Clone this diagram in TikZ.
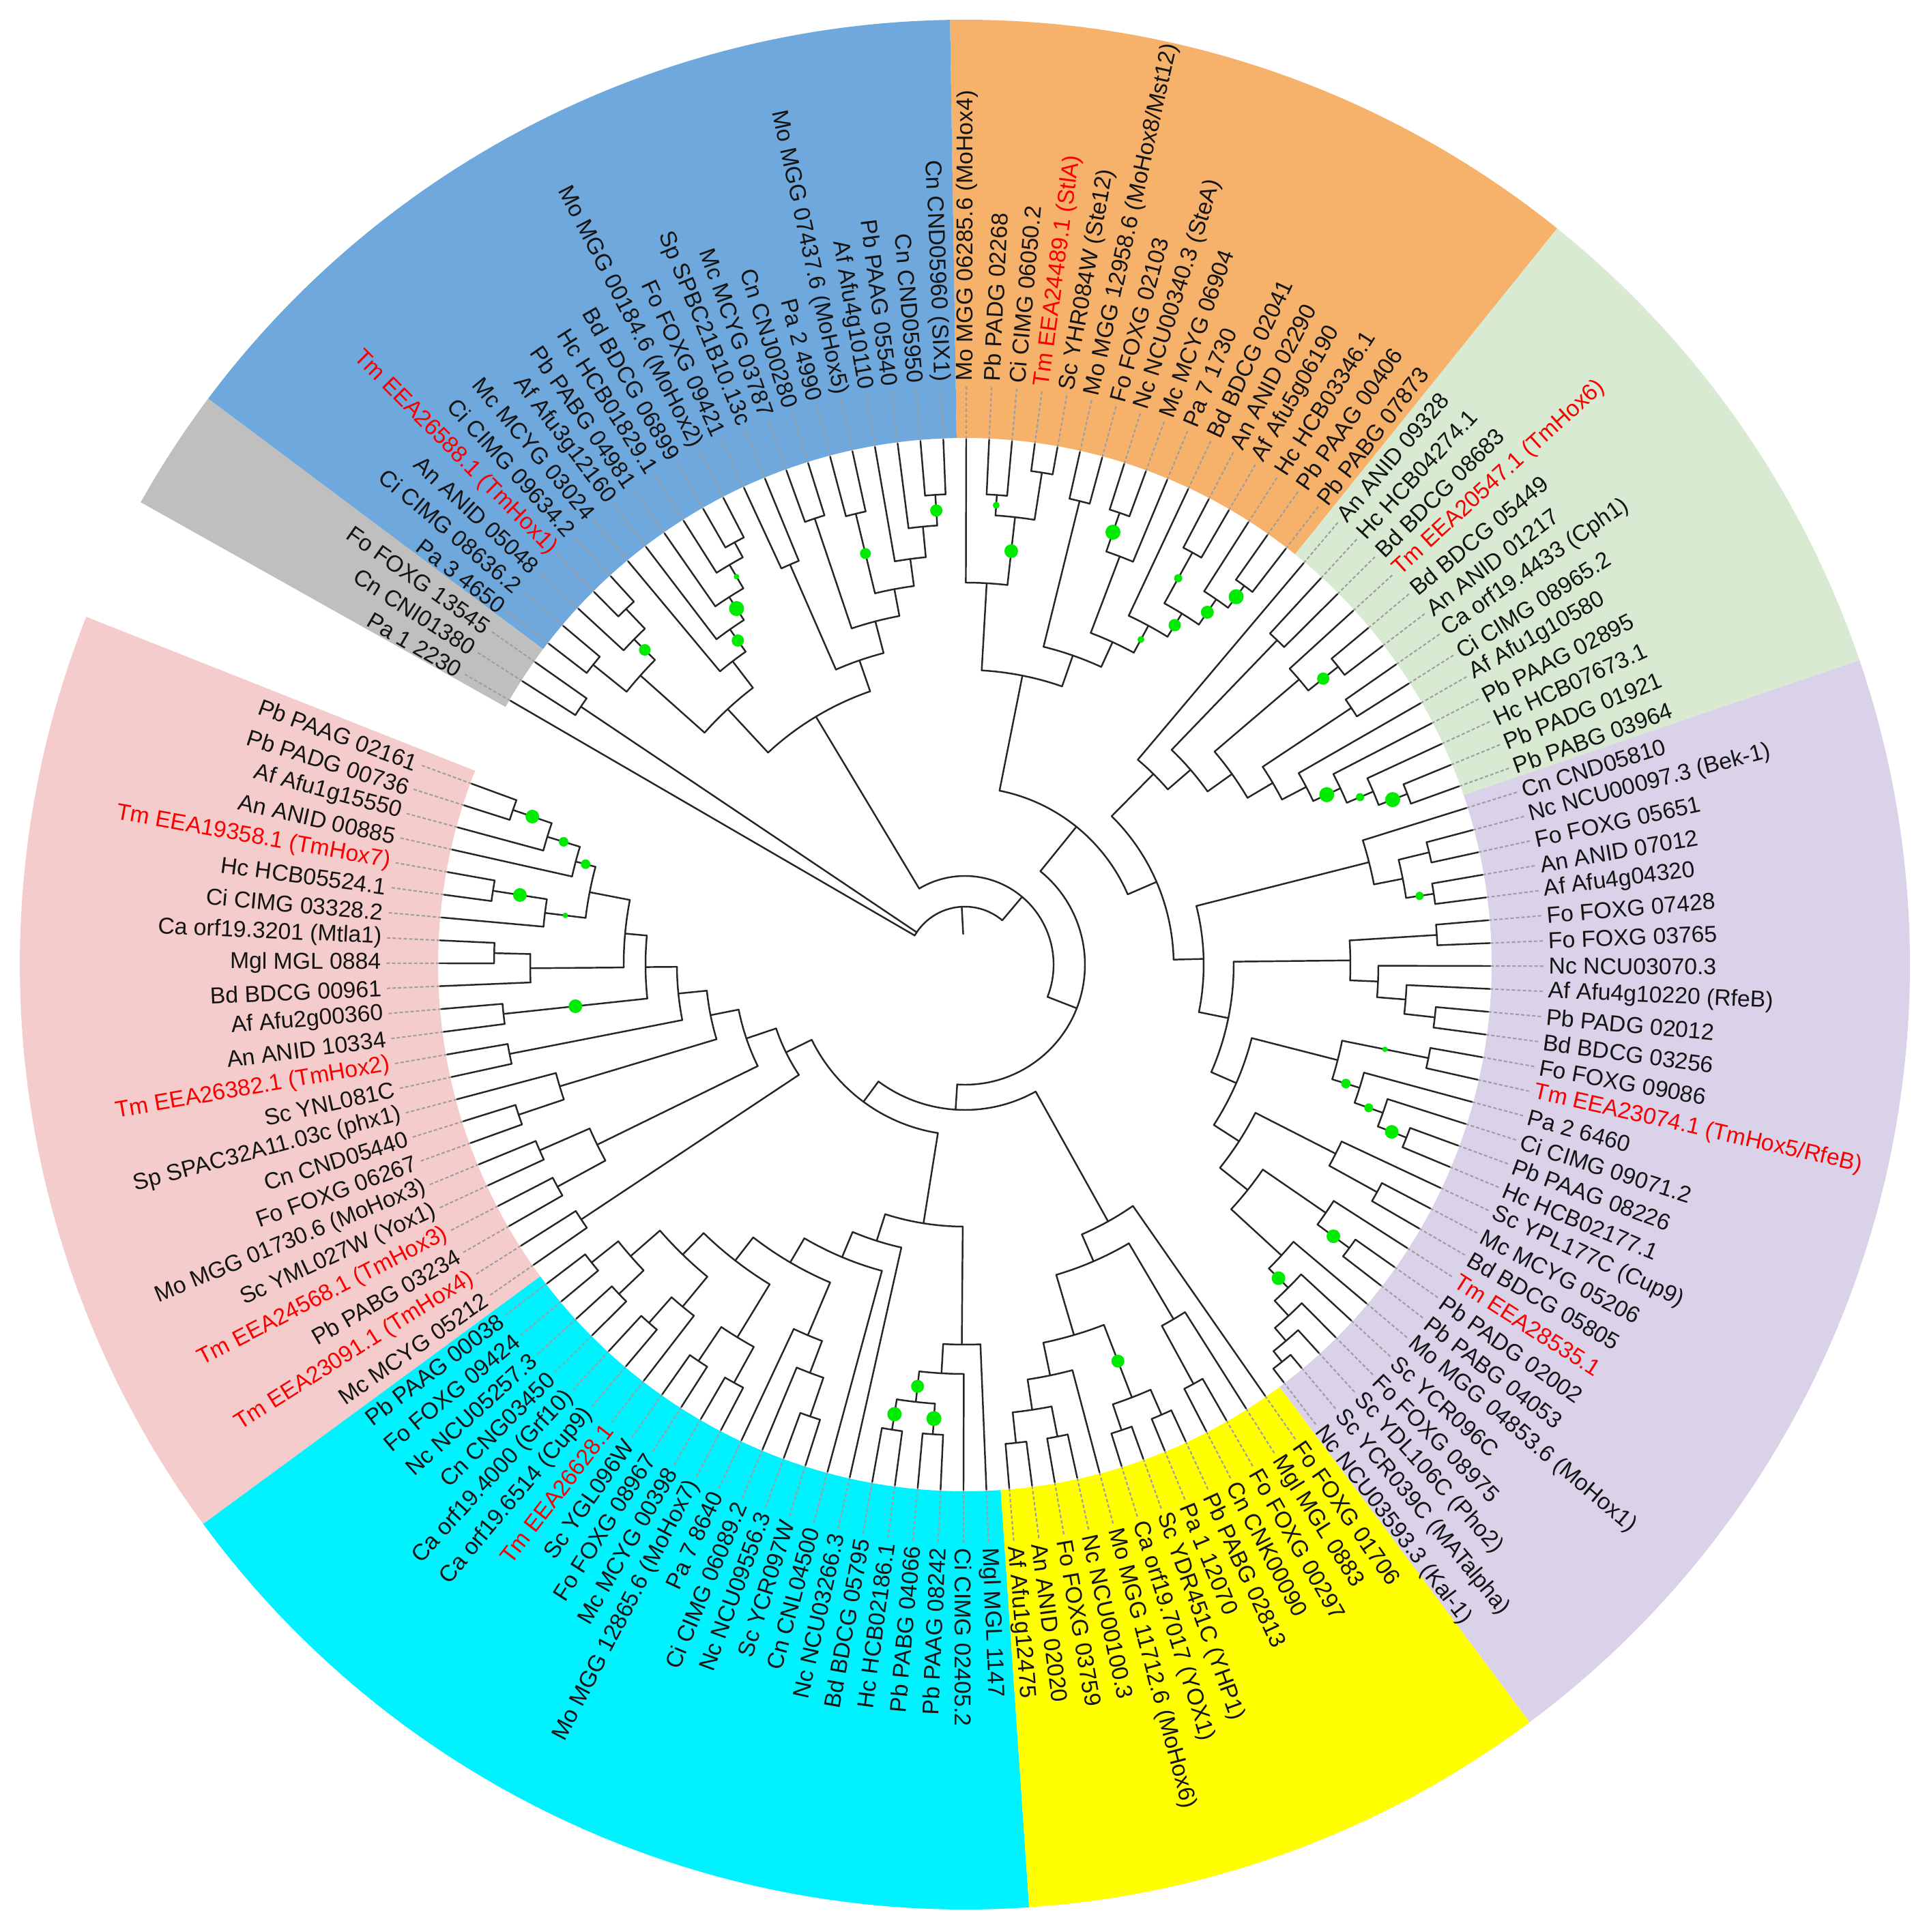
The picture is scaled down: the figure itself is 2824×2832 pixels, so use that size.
\documentclass[tikz,border=0pt]{standalone}
\usepackage{fontspec}
\setmainfont{Liberation Sans}

\def\base{159.85}
\def\tipr{770}
\def\labr{855}
\def\rin{772}
\def\rout{1385}
\definecolor{clade blue}{RGB}{111,168,220}
\definecolor{clade orange}{RGB}{246,178,107}
\definecolor{clade green}{RGB}{217,234,211}
\definecolor{clade purple}{RGB}{217,210,233}
\definecolor{clade yellow}{RGB}{255,255,0}
\definecolor{clade cyan}{RGB}{0,242,255}
\definecolor{clade pink}{RGB}{244,204,204}
\definecolor{clade gray}{RGB}{191,191,191}
\definecolor{support}{RGB}{0,235,0}
\definecolor{hox red}{RGB}{250,0,0}
\tikzset{branch/.style={draw=black!85, line width=0.7pt, line cap=round},
    leader/.style={draw=black!38, line width=0.6pt, dash pattern=on 1.4pt off 0.9pt},
    leaf/.style={font=\fontsize{9.6}{11}\selectfont, inner sep=0pt, text=black!92}}
\newcommand\hox[1]{\textcolor{hox red}{#1}}
\newcommand\cladesector[3]{\fill[#1] (#2:\rin) arc[start angle=#2, end angle=#3, radius=\rin]
    -- (#3:\rout) arc[start angle=#3, end angle=#2, radius=\rout] -- cycle;}

\begin{document}
\begin{tikzpicture}[x=0.1mm, y=0.1mm]
\useasboundingbox (-1414,-1418) rectangle (1410,1414);
\cladesector{clade pink}{158.4}{216.3}
\cladesector{clade cyan}{216.3}{273.9}
\cladesector{clade yellow}{273.9}{306.7}
\cladesector{clade purple}{306.7}{378.8}
\cladesector{clade green}{378.8}{411.2}
\cladesector{clade orange}{411.2}{450.9}
\cladesector{clade blue}{450.9}{503.2}
\cladesector{clade gray}{503.2}{510.7}

% leaves: index / radius of the parent node
\foreach \n/\p in {0/700,1/700,2/640,3/590,4/700,5/700,6/620,7/690,8/690,9/637,10/680,11/680,
    12/680,13/680,14/620,15/690,16/690,17/680,18/680,19/680,20/680,21/675,22/675,
    23/700,24/700,25/700,26/700,27/700,28/700,29/650,30/700,31/700,32/700,33/700,34/590,
    35/640,36/700,37/700,38/465,39/425,40/690,41/690,42/690,43/690,44/600,45/557,
    46/705,47/705,48/705,49/705,50/615,51/720,52/720,53/720,54/720,55/700,56/700,57/603,58/431,
    59/745,60/745,61/725,62/700,63/670,64/630,65/700,66/700,67/642,68/690,69/690,70/610,
    71/695,72/695,73/650,74/606,75/693,76/693,77/693,78/693,79/648,80/606,81/693,82/693,
    83/695,84/695,85/700,86/700,87/611,
    88/695,89/695,90/650,91/608,92/564,93/680,94/680,95/700,96/700,97/644,98/660,99/660,100/393,
    101/690,102/690,103/650,104/690,105/690,106/565,107/640,108/700,109/700,110/700,111/700,
    112/730,113/730,114/690,115/690,116/560,
    117/690,118/690,119/645,120/600,121/680,122/680,123/690,124/690,125/640,126/640,127/705,
    128/705,129/680,130/640,131/600,132/560,133/720,134/720,135/680,136/700,137/700,
    138/678,139/678,140/85}{
  \draw[leader] ({\base+2.5*\n}:\tipr) -- ({\base+2.5*\n}:848);
  \draw[branch] ({\base+2.5*\n}:\p) -- ({\base+2.5*\n}:\tipr);
}

% inner nodes: first child / last child / radius / radius of the parent
\foreach \ca/\cb/\cr/\cp in {0/1/700/640,0.5/2/640/590,1.25/3/590/560,4/5/700/620,4.5/6/620/560,
    2.125/5.25/560/500,7/8/690/637,7.5/9/637/500,3.6875/8.25/500/468,10/11/680/468,
    5.97/10.5/468/422,12/13/680/422,8.235/12.5/422/380,15/16/690/620,14/15.5/620/380,
    10.3675/14.75/380/338,17/18/680/600,19/20/680/600,17.5/19.5/600/338,12.559/18.5/338/292,
    21/22/675/292,15.53/21.5/292/250,
    23/24/700/650,25/26/700/650,23.5/25.5/650/593,27/28/700/650,27.5/29/650/593,
    24.5/28.25/593/549,30/31/700/640,32/33/700/640,30.5/32.5/640/549,26.375/31.5/549/506,
    36/37/700/640,35/36.5/640/590,34/35.75/590/506,28.9375/34.875/506/465,31.906/38/465/425,
    34.953/39/425/384,40/41/690/645,42/43/690/645,40.5/42.5/645/600,41.5/44/600/557,
    42.75/45/557/384,36.977/43.875/384/250,18.515/40.426/250/213,
    46/47/705/660,48/49/705/660,46.5/48.5/660/615,47.5/50/615/566,51/52/720/680,53/54/720/680,
    51.5/53.5/680/566,48.75/52.5/566/474,55/56/700/603,55.5/57/603/474,50.625/56.25/474/431,
    53.4375/58/431/213,29.47/55.72/213/176,
    59/60/745/725,59.5/61/725/700,60.25/62/700/670,61.125/63/670/630,62.0625/64/630/530,
    65/66/700/642,65.5/67/642/530,63.031/66.25/530/478,68/69/690/610,68.5/70/610/478,
    64.64/69.25/478/434,71/72/695/650,71.5/73/650/606,72.25/74/606/564,75/76/693/564,
    73.125/75.5/564/434,66.945/74.3125/434/394,77/78/693/648,77.5/79/648/606,78.25/80/606/565,
    81/82/693/565,79.125/81.5/565/394,70.629/80.3125/394/350,83/84/695/654,85/86/700/654,
    83.5/85.5/654/611,84.5/87/611/350,75.471/85.75/350/306,
    88/89/695/650,88.5/90/650/608,89.25/91/608/564,90.125/92/564/524,93/94/680/524,
    91.0625/93.5/524/481,95/96/700/644,95.5/97/644/481,92.281/96.25/481/437,98/99/660/437,
    94.266/98.5/437/393,96.383/100/393/306,80.61/98.19/306/260,
    101/102/690/650,101.5/103/650/605,104/105/690/605,102.25/104.5/605/565,103.375/106/565/520,
    108/109/700/640,107/108.5/640/520,104.6875/107.75/520/480,110/111/700/480,
    106.219/110.5/480/432,112/113/730/660,114/115/690/660,112.5/114.5/660/560,113.5/116/560/432,
    108.36/114.75/432/260,89.4/111.555/260/176,42.595/100.4775/176/130,
    117/118/690/645,117.5/119/645/600,118.25/120/600/560,121/122/680/560,119.125/121.5/560/520,
    123/124/690/520,120.3125/123.5/520/472,125/126/640/472,121.906/125.5/472/424,
    127/128/705/680,127.5/129/680/640,128.25/130/640/600,129.125/131/600/560,
    130.0625/132/560/511,133/134/720/680,133.5/135/680/637,136/137/700/637,
    134.25/136.5/637/511,131.031/135.375/511/424,123.703/133.203/424/130,
    71.536/128.453/130/85,138/139/678/85}{
  \draw[branch] ({\base+2.5*\ca}:\cr) arc[start angle={\base+2.5*\ca}, end angle={\base+2.5*\cb}, radius=\cr];
  \draw[branch] ({\base+1.25*(\ca+\cb)}:\cr) -- ({\base+1.25*(\ca+\cb)}:\cp);
}
% root
\draw[branch] ({\base+2.5*99.99}:85) arc[start angle={\base+2.5*99.99}, end angle={\base+2.5*140}, radius=85];
\draw[branch] ({\base+2.5*117.3}:85) -- ({\base+2.5*117.3}:45);

% bootstrap circles
\foreach \n/\r/\s in {117.5/667/9,121.5/620/8,128.25/660/4,129.125/620/11,130.0625/580/9,134.25/658/8.5,
    101.5/670/11,102.25/627/9.5,104.5/647/6,103.375/585/9,104.6875/542/5,108.5/670/11,114.5/675/5,113.5/610/10,
    88.5/672/11,89.25/629/6,90.125/586/11,95.5/672/9,
    83.5/674/6,75.5/628/4,73.125/585/7,72.25/628/6.5,71.5/672/10,65.5/671/10,62.06/650/10,
    52.5/623/9.5,41.5/622/9.5,40.5/667/10.5,42.5/667/11,
    0.5/670/10,1.25/615/7,2.125/575/7,4.5/660/10,5.25/590/4,10.5/574/10}
  \fill[support] ({\base+2.5*\n}:\r) circle[radius=\s];

\foreach \t [count=\i from 0] in {Pb PAAG 02161,Pb PADG 00736,Af Afu1g15550,An ANID 00885,
    \hox{Tm EEA19358.1 (TmHox7)},Hc HCB05524.1,Ci CIMG 03328.2,Ca orf19.3201 (Mtla1),
    Mgl MGL 0884,Bd BDCG 00961,Af Afu2g00360,An ANID 10334,\hox{Tm EEA26382.1 (TmHox2)},
    Sc YNL081C,Sp SPAC32A11.03c (phx1),Cn CND05440,Fo FOXG 06267,Mo MGG 01730.6 (MoHox3),
    Sc YML027W (Yox1),\hox{Tm EEA24568.1 (TmHox3)},Pb PABG 03234,\hox{Tm EEA23091.1 (TmHox4)},
    Mc MCYG 05212,Pb PAAG 00038,Fo FOXG 09424,Nc NCU05257.3,Cn CNG03450,Ca orf19.4000 (Grf10),
    Ca orf19.6514 (Cup9),\hox{Tm EEA26628.1},Sc YGL096W,Fo FOXG 08967,Mc MCYG 00398,
    Mo MGG 12865.6 (MoHox7),Pa 7 8640,Ci CIMG 06089.2,Nc NCU09556.3,Sc YCR097W,Cn CNL04500,
    Nc NCU03266.3,Bd BDCG 05795,Hc HCB02186.1,Pb PABG 04066,Pb PAAG 08242,Ci CIMG 02405.2,
    Mgl MGL 1147,Af Afu1g12475,An ANID 02020,Fo FOXG 03759,Nc NCU00100.3,Mo MGG 11712.6 (MoHox6),
    Ca orf19.7017 (YOX1),Sc YDR451C (YHP1),Pa 1 12070,Pb PABG 02813,Cn CNK00090,Fo FOXG 00297,
    Mgl MGL 0883,Fo FOXG 01706,Nc NCU03593.3 (Kal-1),Sc YCR039C (MATalpha),Sc YDL106C (Pho2),
    Fo FOXG 08975,Sc YCR096C,Mo MGG 04853.6 (MoHox1),Pb PABG 04053,Pb PADG 02002,
    \hox{Tm EEA28535.1},Bd BDCG 05805,Mc MCYG 05206,Sc YPL177C (Cup9),Hc HCB02177.1,
    Pb PAAG 08226,Ci CIMG 09071.2,Pa 2 6460,\hox{Tm EEA23074.1 (TmHox5/RfeB)},Fo FOXG 09086,
    Bd BDCG 03256,Pb PADG 02012,Af Afu4g10220 (RfeB),Nc NCU03070.3,Fo FOXG 03765,Fo FOXG 07428,
    Af Afu4g04320,An ANID 07012,Fo FOXG 05651,Nc NCU00097.3 (Bek-1),Cn CND05810,Pb PABG 03964,
    Pb PADG 01921,Hc HCB07673.1,Pb PAAG 02895,Af Afu1g10580,Ci CIMG 08965.2,Ca orf19.4433 (Cph1),
    An ANID 01217,Bd BDCG 05449,\hox{Tm EEA20547.1 (TmHox6)},Bd BDCG 08683,Hc HCB04274.1,
    An ANID 09328,Pb PABG 07873,Pb PAAG 00406,Hc HCB03346.1,Af Afu5g06190,An ANID 02290,
    Bd BDCG 02041,Pa 7 1730,Mc MCYG 06904,Nc NCU00340.3 (SteA),Fo FOXG 02103,
    Mo MGG 12958.6 (MoHox8/Mst12),Sc YHR084W (Ste12),\hox{Tm EEA24489.1 (StlA)},Ci CIMG 06050.2,
    Pb PADG 02268,Mo MGG 06285.6 (MoHox4),Cn CND05960 (SIX1),Cn CND05950,Pb PAAG 05540,
    Af Afu4g10110,Mo MGG 07437.6 (MoHox5),Pa 2 4990,Cn CNJ00280,Mc MCYG 03787,Sp SPBC21B10.13c,
    Fo FOXG 09421,Mo MGG 00184.6 (MoHox2),Bd BDCG 06899,Hc HCB01829.1,Pb PABG 04981,
    Af Afu3g12160,Mc MCYG 03024,Ci CIMG 09634.2,\hox{Tm EEA26588.1 (TmHox1)},An ANID 05048,
    Ci CIMG 08636.2,Pa 3 4650,Fo FOXG 13545,Cn CNI01380,Pa 1 2230}{
  \pgfmathsetmacro\lang{\base+2.5*\i}
  \ifnum\i<44 \def\side{1}\else\ifnum\i>116 \def\side{1}\else\def\side{0}\fi\fi
  \if1\side
    \node[leaf, anchor=east, rotate=\lang-180] (lab\i) at (\lang:\labr) {\t};
  \else
    \node[leaf, anchor=west, rotate=\lang] (lab\i) at (\lang:\labr) {\t};
  \fi
}
\end{tikzpicture}
\end{document}
